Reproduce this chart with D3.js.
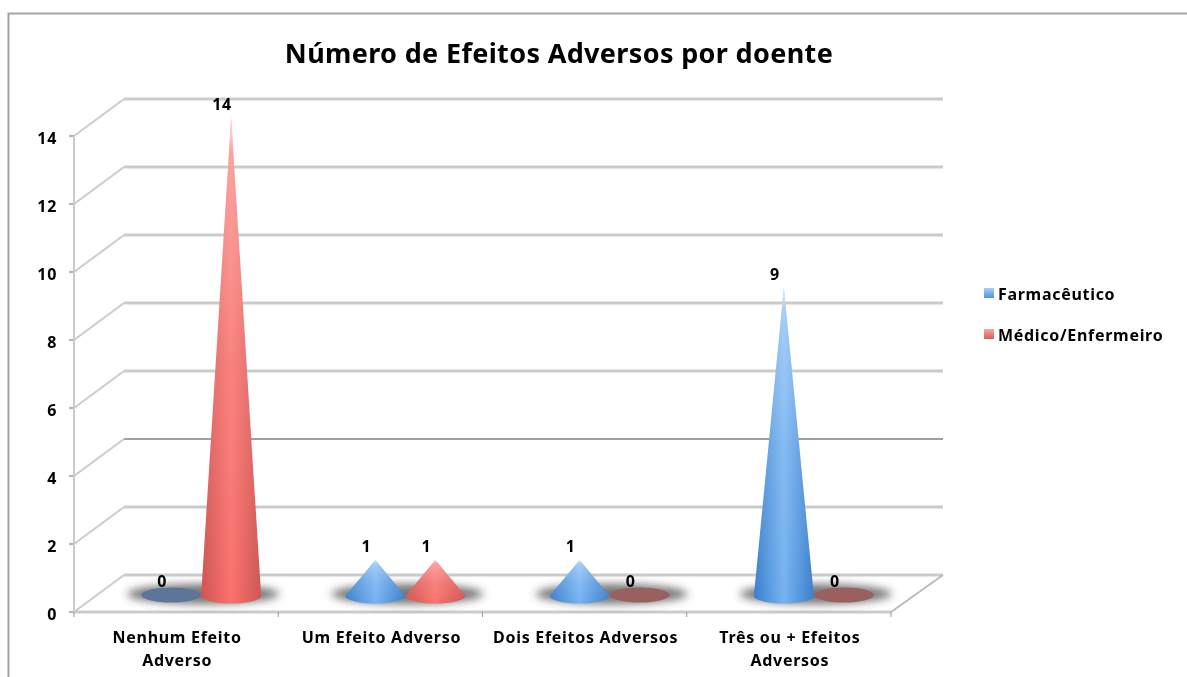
<!DOCTYPE html>
<html><head><meta charset="utf-8">
<style>html,body{margin:0;padding:0;background:#fff;overflow:hidden}svg{display:block}text{font-family:"Noto Sans",sans-serif;font-weight:bold;fill:#000}</style>
<script src="https://cdn.jsdelivr.net/npm/d3@7"></script></head><body>
<script>
const titleText = "Número de Efeitos Adversos por doente";
const categories = [["Nenhum Efeito","Adverso"],["Um Efeito Adverso"],["Dois Efeitos Adversos"],["Três ou + Efeitos","Adversos"]];
const seriesNames = ["Farmacêutico","Médico/Enfermeiro"];
const farmaceutico = [0,1,1,9];
const medico = [14,1,0,0];
const yTicks = [0,2,4,6,8,10,12,14];
const W=1187,H=677;
const frontL=74,frontR=891,front0=612,front14=136,dx=50,dy=-37;
const x=d3.scaleBand().domain(d3.range(categories.length)).range([frontL,frontR]);
const xs=d3.scaleBand().domain([0,1]).range([-60,60]);
const y=d3.scaleLinear().domain([0,14]).range([front0,front14]);
const svg=d3.select("body").append("svg").attr("width",W).attr("height",H);
const defs=svg.append("defs");
defs.append("filter").attr("id","soft").attr("x","-5%").attr("y","-5%").attr("width","110%").attr("height","110%").append("feGaussianBlur").attr("stdDeviation",0.4);
defs.append("filter").attr("id","sh").attr("x","-30%").attr("y","-80%").attr("width","160%").attr("height","260%").append("feGaussianBlur").attr("stdDeviation",4);
function grad(id,stops,vertical){const g=defs.append("linearGradient").attr("id",id).attr("x1",0).attr("y1",0).attr("x2",vertical?0:1).attr("y2",vertical?1:0);
 stops.forEach(s=>g.append("stop").attr("offset",s[0]).attr("stop-color",s[1]).attr("stop-opacity",s[2]===undefined?1:s[2]));}
grad("c0",[[0,"#3a7fca"],[.5,"#76b3f3"],[1,"#3a7fca"]]);
grad("c1",[[0,"#cf5552"],[.5,"#fb726d"],[1,"#cf5552"]]);
grad("l0",[[0,"#a9cdf8"],[1,"#4f93dc"]],true);
grad("l1",[[0,"#f7aaa8"],[1,"#dc5a56"]],true);
grad("fade",[[0,"#fff",.85],[.07,"#fff",.35],[.5,"#fff",.12],[1,"#fff",0]],true);

svg.append("path").attr("d",`M8.5,${H+5}V13.5H${W+5}`).attr("fill","none").attr("stroke","#a4a4a4").attr("stroke-width",2);
const g=svg.append("g").attr("filter","url(#soft)");
g.append("text").attr("x",559).attr("y",63).attr("text-anchor","middle").style("font-size","27px").style("letter-spacing","0.35px").text(titleText);

const grid=g.append("g");
const lab="16px", ls="0.7px";
yTicks.forEach(t=>{
 const yy=y(t);
 const c=t===4?"#a0a0a0":"#cbcbcb";
 grid.append("line").attr("x1",frontL+dx).attr("x2",frontR+dx+2).attr("y1",yy+dy).attr("y2",yy+dy).attr("stroke",c).attr("stroke-width",t===4?2.2:3);
 grid.append("line").attr("x1",frontL).attr("x2",frontL+dx).attr("y1",yy).attr("y2",yy+dy).attr("stroke","#cbcbcb").attr("stroke-width",2);
 grid.append("line").attr("x1",frontL-5).attr("x2",frontL).attr("y1",yy).attr("y2",yy).attr("stroke","#999").attr("stroke-width",1.5);
 g.append("text").attr("x",frontL-17).attr("y",yy+8).attr("text-anchor","end").style("font-size",lab).style("letter-spacing",ls).text(t);
});
grid.append("line").attr("x1",frontL).attr("x2",frontL).attr("y1",y(0)).attr("y2",y(14)).attr("stroke","#cbcbcb").attr("stroke-width",2);
grid.append("line").attr("x1",frontL).attr("x2",frontR).attr("y1",y(0)).attr("y2",y(0)).attr("stroke","#cbcbcb").attr("stroke-width",3);
grid.append("line").attr("x1",frontR).attr("x2",frontR+dx+2).attr("y1",y(0)).attr("y2",y(0)+dy).attr("stroke","#bbb").attr("stroke-width",2);
d3.range(categories.length+1).forEach(i=>{const xx=frontL+i*x.bandwidth();
 grid.append("line").attr("x1",xx).attr("x2",xx).attr("y1",y(0)).attr("y2",y(0)+5).attr("stroke","#999").attr("stroke-width",1);});

categories.forEach((c,i)=>{c.forEach((ln,k)=>{
 g.append("text").attr("x",x(i)+x.bandwidth()/2+1).attr("y",643+k*22.5).attr("text-anchor","middle").style("font-size",lab).style("letter-spacing",ls).text(ln);});});

const peakBase=y(0)-18, baseY=y(0)-16, rx=30, ry=7.5;
const scaleH=y(0)-y(1);
const vals=[farmaceutico,medico];
categories.forEach((c,i)=>{
 const cx=x(i)+x.bandwidth()/2+dx/2;
 g.append("ellipse").attr("cx",cx+2).attr("cy",peakBase).attr("rx",76).attr("ry",10).attr("fill","#666").attr("opacity",.9).attr("filter","url(#sh)");
});
vals.forEach((v,si)=>{
 v.forEach((val,i)=>{
  const cx=x(i)+x.bandwidth()/2+dx/2+xs(si)+xs.bandwidth()/2;
  const top=peakBase-val*scaleH;
  if(val===0){
   g.append("ellipse").attr("cx",cx).attr("cy",peakBase+1).attr("rx",rx).attr("ry",7.5).attr("fill",si?"#9a6060":"#5d7599");
  }else{
   const d=`M${cx},${top}L${cx+rx},${baseY}A${rx},${ry} 0 0 1 ${cx-rx},${baseY}Z`;
   g.append("path").attr("d",d).attr("fill",`url(#c${si})`);
   g.append("path").attr("d",d).attr("fill","url(#fade)");
  }
  g.append("text").attr("x",cx-9).attr("y",top-(val===0?7:8)).attr("text-anchor","middle").style("font-size",lab).style("letter-spacing",ls).text(val);
 });
});
seriesNames.forEach((n,i)=>{
 const ly=293+i*41;
 g.append("rect").attr("x",984).attr("y",ly-5).attr("width",10).attr("height",10).attr("fill",`url(#l${i})`);
 g.append("text").attr("x",998).attr("y",ly+7).style("font-size",lab).style("letter-spacing",ls).text(n);
});
</script></body></html>
